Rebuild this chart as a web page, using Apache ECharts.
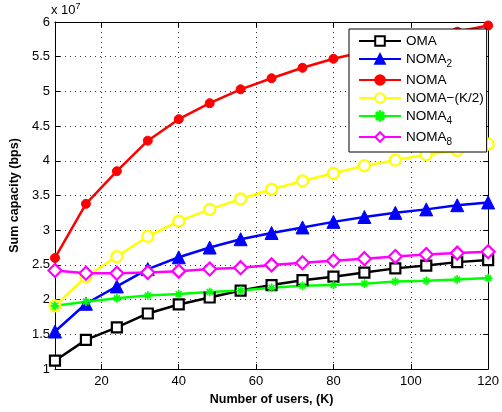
<!DOCTYPE html>
<html>
<head>
<meta charset="utf-8">
<script src="https://cdn.jsdelivr.net/npm/echarts@6/dist/echarts.min.js"></script>
<style>
  html, body { margin: 0; padding: 0; background: #fff; }
  #chart { width: 502px; height: 412px; }
</style>
</head>
<body>
<div id="chart"></div>
<script>
// number of users K
const users = [8, 16, 24, 32, 40, 48, 56, 64, 72, 80, 88, 96, 104, 112, 120];
const xTicks = [20, 40, 60, 80, 100, 120];

// sum capacity, in units of 1e7 bps
const oma = [1.12, 1.42, 1.60, 1.80, 1.93, 2.03, 2.13, 2.21, 2.28, 2.33, 2.39, 2.45, 2.49, 2.54, 2.57];
const noma2 = [1.54, 1.94, 2.19, 2.44, 2.61, 2.75, 2.87, 2.96, 3.04, 3.12, 3.19, 3.25, 3.30, 3.36, 3.40];
const noma = [2.60, 3.38, 3.85, 4.29, 4.60, 4.83, 5.03, 5.19, 5.34, 5.47, 5.57, 5.67, 5.76, 5.86, 5.95];
const nomaHalf = [1.91, 2.33, 2.62, 2.91, 3.13, 3.30, 3.45, 3.59, 3.71, 3.82, 3.93, 4.01, 4.09, 4.15, 4.24];
const noma4 = [1.91, 1.97, 2.02, 2.06, 2.08, 2.11, 2.13, 2.17, 2.20, 2.21, 2.23, 2.26, 2.27, 2.29, 2.31];
const noma8 = [2.42, 2.38, 2.38, 2.39, 2.41, 2.44, 2.46, 2.50, 2.53, 2.56, 2.59, 2.62, 2.65, 2.67, 2.69];

const FONT = "Liberation Sans, Arial, sans-serif";
const star = "path://M4.5,0h1v10h-1z M0,4.5h10v1h-10z M1.2,2L2,1.2L8.8,8L8,8.8z M8,1.2L8.8,2L2,8.8L1.2,8z";

function pairs(ys) {
  return users.map((k, i) => [k, ys[i]]);
}

function makeSeries(name, ys, color, symbol, size, hollow) {
  return {
    name: name,
    type: "line",
    data: pairs(ys),
    symbol: symbol,
    symbolSize: size,
    showAllSymbol: true,
    lineStyle: { color: color, width: 2.5 },
    itemStyle: hollow
      ? { color: "#fff", borderColor: color, borderWidth: 2.2 }
      : { color: color, borderColor: color, borderWidth: 1 },
    emphasis: { disabled: true },
  };
}

const chart = echarts.init(document.getElementById("chart"));

const option = {
  animation: false,
  textStyle: { fontFamily: FONT },
  grid: { left: 51, right: 11, top: 22, bottom: 43 },
  graphic: [
    {
      type: "text",
      left: 51,
      top: 2,
      style: {
        text: "x 10{sup|7}",
        fontFamily: FONT,
        fontSize: 13,
        fill: "#000",
        rich: {
          sup: { fontSize: 9, verticalAlign: "top", padding: [0, 0, 8, 0], fontFamily: FONT },
        },
      },
    },
  ],
  legend: {
    orient: "vertical",
    left: 349,
    top: 29,
    padding: [5, 3, 5, 9],
    itemGap: 4,
    itemWidth: 42,
    itemHeight: 12,
    backgroundColor: "#fff",
    borderColor: "#000",
    borderWidth: 1,
    data: ["OMA", "NOMA2", "NOMA", "NOMA\u2212(K/2)", "NOMA4", "NOMA8"],
    formatter: (name) => name.replace(/^NOMA(\d)$/, "NOMA{sub|$1}"),
    textStyle: {
      fontFamily: FONT,
      fontSize: 13.5,
      color: "#000",
      rich: {
        sub: { fontSize: 10, verticalAlign: "bottom", padding: [10, 0, 0, 0], fontFamily: FONT },
      },
    },
  },
  xAxis: [
    {
      type: "value",
      min: 8,
      max: 120,
      name: "Number of users, (K)",
      nameLocation: "middle",
      nameGap: 22,
      nameTextStyle: { fontFamily: FONT, fontSize: 12.5, fontWeight: "bold", color: "#000" },
      axisLine: { show: true, lineStyle: { color: "#000", width: 1 } },
      axisTick: { show: true, inside: true, length: 5, customValues: xTicks, lineStyle: { color: "#000" } },
      axisLabel: { customValues: xTicks, color: "#000", fontSize: 13, margin: 6, fontFamily: FONT },
      splitLine: { show: true, lineStyle: { color: "#333", type: [1, 4], width: 1 } },
    },
    {
      type: "value",
      position: "top",
      min: 8,
      max: 120,
      axisLine: { show: true, onZero: false, lineStyle: { color: "#000", width: 1 } },
      axisTick: { show: true, inside: true, length: 5, customValues: xTicks, lineStyle: { color: "#000" } },
      axisLabel: { show: false },
      splitLine: { show: false },
    },
  ],
  yAxis: [
    {
      type: "value",
      min: 1,
      max: 6,
      interval: 0.5,
      name: "Sum capacity (bps)",
      nameLocation: "middle",
      nameGap: 33,
      nameTextStyle: { fontFamily: FONT, fontSize: 12.5, fontWeight: "bold", color: "#000" },
      axisLine: { show: true, lineStyle: { color: "#000", width: 1 } },
      axisTick: { show: true, inside: true, length: 5, lineStyle: { color: "#000" } },
      axisLabel: { color: "#000", fontSize: 13, margin: 5, fontFamily: FONT },
      splitLine: { show: true, lineStyle: { color: "#333", type: [1, 4], width: 1 } },
    },
    {
      type: "value",
      position: "right",
      min: 1,
      max: 6,
      interval: 0.5,
      axisLine: { show: true, onZero: false, lineStyle: { color: "#000", width: 1 } },
      axisTick: { show: true, inside: true, length: 5, lineStyle: { color: "#000" } },
      axisLabel: { show: false },
      splitLine: { show: false },
    },
  ],
  series: [
    makeSeries("OMA", oma, "#000000", "rect", 10, true),
    makeSeries("NOMA2", noma2, "#0000ff", "triangle", 13, false),
    makeSeries("NOMA", noma, "#ff0000", "circle", 9, false),
    makeSeries("NOMA\u2212(K/2)", nomaHalf, "#ffff00", "circle", 11, true),
    makeSeries("NOMA4", noma4, "#00ff00", star, 8, false),
    makeSeries("NOMA8", noma8, "#ff00ff", "diamond", 13, true),
  ],
};

chart.setOption(option);
</script>
</body>
</html>
